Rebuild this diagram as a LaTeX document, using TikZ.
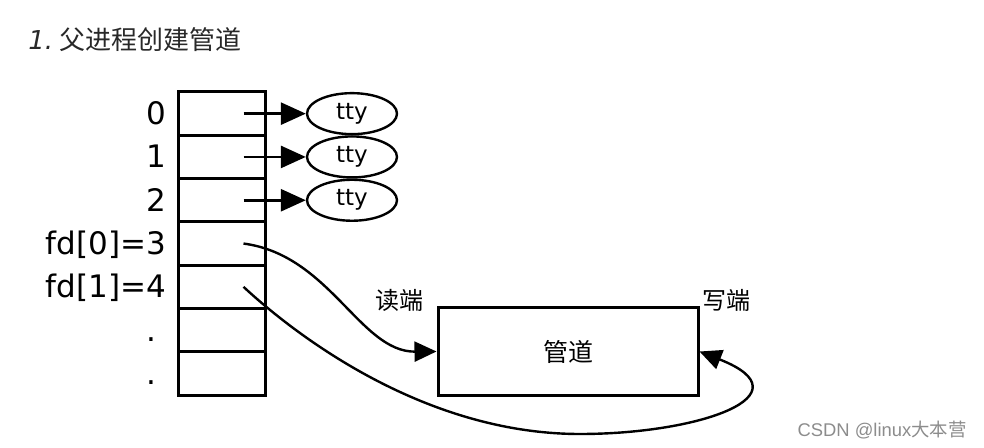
\documentclass[tikz,border=0pt]{standalone}
\usepackage{fontspec}
\setmainfont{DejaVu Sans}
\newfontfamily\cjk{Noto Sans CJK SC}
\newfontfamily\wmfont{Liberation Sans}
\usepackage{tikz}
\usetikzlibrary{arrows.meta, positioning, shapes.geometric}
\usepackage{xcolor}
\definecolor{wmgray}{RGB}{140,140,140}
\definecolor{titlegray}{RGB}{40,40,40}

\begin{document}
\begin{tikzpicture}[x=0.5pt, y=-0.5pt,
  cell/.style={draw, line width=1.5pt, minimum width=43.5pt, minimum height=21.65pt, inner sep=0pt},
  fdlabel/.style={inner sep=0pt, text height=11pt, text depth=0pt, font=\fontsize{15.5}{18}\selectfont},
  tty/.style={ellipse, draw, line width=1.2pt, minimum width=45pt, minimum height=20.5pt, inner sep=0pt, font=\fontsize{11.5}{13}\selectfont},
  fdarrow/.style={line width=1.4pt, -{Triangle[length=12.5pt,width=11pt]}},
  curvearrow/.style={line width=1.2pt, -{Triangle[length=11pt,width=10pt]}},
  hanzi/.style={inner sep=0pt, font=\cjk\fontsize{12}{14}\selectfont}]
  \useasboundingbox (0,0) rectangle (984,448);
  % title
  \node[anchor=west, inner sep=0pt, text=titlegray, font=\fontsize{13}{16}\selectfont] (title) at (28,40) {\itshape 1.\hspace{3pt}{\upshape\cjk 父进程创建管道}};
  % fd table
  \foreach \i in {0,...,6}
    \node[cell] (c\i) at (221.5, 113.65+43.3*\i) {};
  \foreach \i/\txt in {0/0, 1/1, 2/2, 3/{fd[0]=3}, 4/{fd[1]=4}}
    \node[fdlabel, left=5pt of c\i] (l\i) {\txt};
  \node[fdlabel, left=10pt of c5] (l5) {.};
  \node[fdlabel, left=10pt of c6] (l6) {.};
  % tty entries
  \foreach \i in {0,1,2} {
    \node[tty] (t\i) at (352, 113.65+43.3*\i) {tty};
    \coordinate (s\i) at ([xshift=11pt]c\i.center);
    \draw[fdarrow] (s\i) -- (t\i.west);
  }
  % pipe
  \node[hanzi, draw, line width=1.5pt, minimum width=130pt, minimum height=43.5pt, font=\cjk\fontsize{12.5}{14}\selectfont] (pipe) at (568,351.5) {管道};
  \node[hanzi] (rd) at (399,300) {读端};
  \node[hanzi] (wr) at (726,300) {写端};
  \coordinate (s3) at ([xshift=11pt]c3.center);
  \coordinate (s4) at ([xshift=11pt]c4.center);
  \draw[curvearrow] (s3) .. controls (330,255) and (360,352) .. (pipe.west);
  \draw[curvearrow] (s4) .. controls (290,330) and (420,434) .. (580,434)
    .. controls (700,434) and (810,395) .. (pipe.east);
  % watermark
  \node[inner sep=0pt, text=wmgray, font=\fontsize{9.2}{11}\selectfont] (wm) at (882,430) {{\wmfont CSDN @linux}{\cjk 大本营}};
\end{tikzpicture}
\end{document}
